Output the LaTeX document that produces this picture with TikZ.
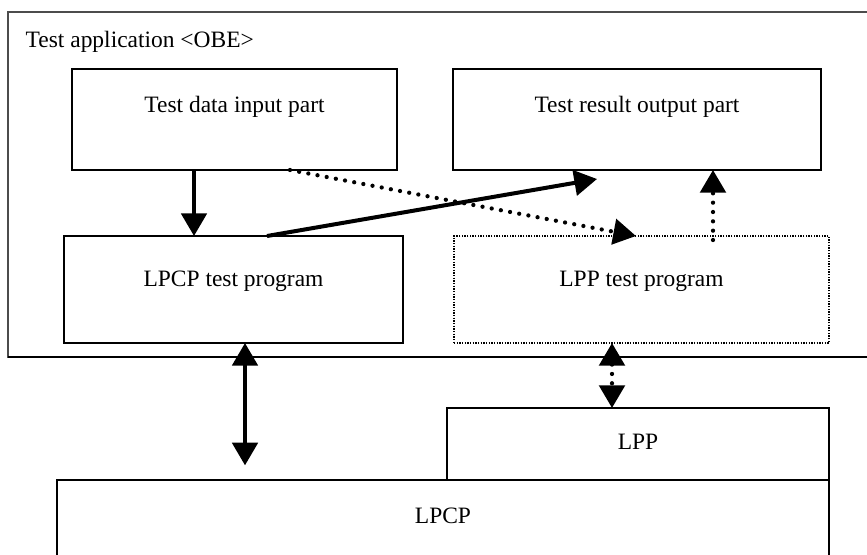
\documentclass[tikz,border=0pt]{standalone}
\usepackage{fontspec}
\setmainfont{Liberation Serif}
\usetikzlibrary{arrows.meta,positioning}

\tikzset{
    pil/.style={ -{Triangle[length=17pt,width=19pt]}, line width=3pt,},
    dotarrow/.style={ -{Triangle[length=17pt,width=19pt]}, line width=3.2pt, line cap=round, dash pattern=on 0pt off 7pt},
    %Define style for boxes
    box/.style={ draw, line width=1.1pt, inner sep=0pt, outer sep=0pt, anchor=north west},
  }

\begin{document}
\begin{tikzpicture}[x=0.75pt, y=-0.75pt, font=\fontsize{17.6}{21}\selectfont]
\useasboundingbox (0,0) rectangle (867,554);

% test application frame
  \node[box, draw=black!70, line width=0.9pt, minimum width=650pt, minimum height=258.75pt] (obe) at (8,12) {};
  \draw[line width=1.2pt] (obe.south west) -- (obe.south east);
  \node[anchor=base west] (obetext) at (21,47) {Test application <OBE>};

% parts of the application
  \node[box, minimum width=243.75pt, minimum height=75.75pt] (input) at (72,69) {};
  \node[anchor=base] (inputtext) at (234.5,112) {Test data input part};

  \node[box, minimum width=276pt, minimum height=75.75pt] (result) at (453,69) {};
  \node[anchor=base] (resulttext) at (637,112) {Test result output part};

  \node[box, minimum width=254.25pt, minimum height=80.25pt] (lpcptest) at (64,236) {};
  \node[anchor=base] (lpcptesttext) at (233.5,286) {LPCP test program};

  \node[box, line width=0.8pt, dash pattern=on 1pt off 1pt, minimum width=281.25pt, minimum height=80.25pt] (lpptest) at (454,236) {};
  \node[anchor=base] (lpptesttext) at (641.5,286) {LPP test program};

% libraries
  \node[box, minimum width=286.5pt, minimum height=54pt] (lpp) at (447,408) {};
  \node[anchor=base] (lpptext) at (638,449) {LPP};

  \node[box, minimum width=579pt, minimum height=60pt] (lpcp) at (57,480) {};
  \node[anchor=base] (lpcptext) at (443,523) {LPCP};

% arrows inside the application
  \coordinate (resultin) at ([shift={(144,9)}]result.south west);
  \draw[pil] ([xshift=122*0.75pt]input.south west) -- ([xshift=130*0.75pt]lpcptest.north west);
  \draw[pil] ([xshift=203*0.75pt]lpcptest.north west) -- (resultin);
  \draw[dotarrow] ([xshift=218*0.75pt]input.south west) -- ([xshift=182*0.75pt]lpptest.north west);
  \draw[dotarrow] ([xshift=259*0.75pt,yshift=-3pt]lpptest.north west) -- ([xshift=260*0.75pt]result.south west);

% calls into the libraries
  \draw[pil, {Triangle[length=17pt,width=19pt]}-{Triangle[length=17pt,width=19pt]}, shorten >=11pt] ([xshift=181*0.75pt]lpcptest.south west) -- ([xshift=188*0.75pt]lpcp.north west);
  \draw[dotarrow, {Triangle[length=17pt,width=19pt]}-{Triangle[length=17pt,width=19pt]}] ([xshift=158*0.75pt]lpptest.south west) -- ([xshift=165*0.75pt]lpp.north west);

\end{tikzpicture}
\end{document}
